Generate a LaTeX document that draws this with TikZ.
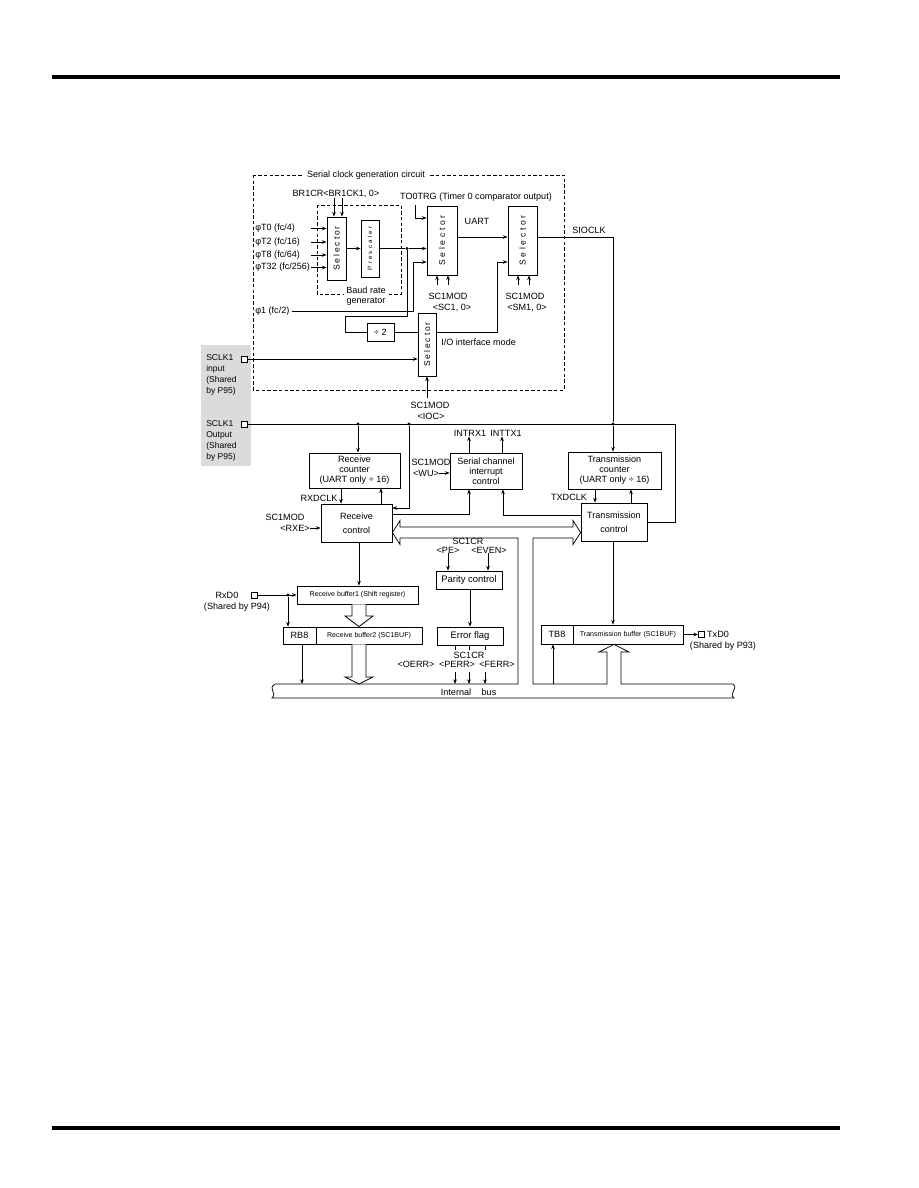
\documentclass[tikz,border=0pt]{standalone}
\usepackage{fontspec}
\setmainfont{Liberation Sans}
\newfontfamily\selfont[LetterSpace=22]{Liberation Sans}
\newfontfamily\selfontb[LetterSpace=32]{Liberation Sans}
\newfontfamily\prefont[LetterSpace=36]{Liberation Sans}
\usetikzlibrary{arrows.meta,calc}
\begin{document}
\begin{tikzpicture}[x=0.75pt,y=-0.75pt,
  every node/.style={inner sep=0pt},
  txt/.style={font=\fontsize{6.8}{7.6}\selectfont},
  sclk/.style={font=\fontsize{6.4}{7.6}\selectfont, anchor=west},
  sml/.style={font=\fontsize{5.3}{6}\selectfont},
  box/.style={draw, line width=0.6pt, align=center, font=\fontsize{6.8}{7.6}\selectfont},
  ctl/.style={font=\fontsize{6.8}{10.2}\selectfont},
  big/.style={font=\fontsize{7.1}{8}\selectfont},
  sz/.style 2 args={minimum width=#1*0.75pt, minimum height=#2*0.75pt},
  wire/.style={line width=0.55pt},
  arr/.style={wire, -{Stealth[length=3.5pt,width=2.7pt]}},
  jdot/.style={circle, fill, minimum size=2.4pt},
  pin/.style={draw, fill=white, line width=0.55pt, minimum size=4.6pt},
  dbox/.style={line width=0.55pt, dash pattern=on 2.6pt off 1.7pt},
  hollow/.style={draw, line width=0.6pt, fill=white, line join=miter},
  rsel/.style={rotate=90, font=\selfont\fontsize{6.4}{7}\selectfont},
  rselb/.style={rotate=90, font=\selfontb\fontsize{6.4}{7}\selectfont},
]
\useasboundingbox (0,0) rectangle (918,1188);

% page rules
\draw[line width=2.3pt] (52,77) -- (840,77);
\draw[line width=2.3pt] (52,1128) -- (840,1128);

% shaded pin area
\fill[black!14] (201,345) rectangle (251,466);

% dashed frames
\draw[dbox] (253,175) rectangle (564,390);
\node[txt, fill=white, inner xsep=2pt, inner ysep=1pt] (sctitle) at (366,175) {Serial clock generation circuit};
\draw[dbox] (317,205) rectangle (401,294);
\node[txt, fill=white, inner xsep=1.5pt, inner ysep=1pt] (baud1) at (366,290) {Baud rate};
\node[txt] (baud2) at (366,301.5) {generator};

% boxes
\node[box, sz={19}{63}] (selA) at (336.5,248.5) {};
\node[rsel] (selAt) at (selA) {Selector};
\node[box, sz={18}{57}] (presc) at (370,248.5) {};
\node[rotate=90, font=\prefont\fontsize{4.6}{5}\selectfont] (presct) at (presc) {Prescaler};
\node[box, sz={30}{69}] (selB) at (442,240.5) {};
\node[rselb] (selBt) at (selB) {Selector};
\node[box, sz={29}{69}] (selD) at (522.5,240.5) {};
\node[rselb] (selDt) at (selD) {Selector};
\node[box, sz={18}{63}] (selC) at (427,344.5) {};
\node[rsel] (selCt) at (selC) {Selector};
\node[box, sz={27}{18}] (div2) at (380.5,332) {÷ 2};

\node[box, sz={91}{35}] (rxcnt) at (354.5,470.5) {Receive\\counter\\(UART only ÷ 16)};
\node[box, ctl, sz={71}{38}] (rxctl) at (356.5,523) {Receive\\control};
\node[box, sz={72}{36}] (intc) at (486,471) {Serial channel\\interrupt\\control};
\node[box, sz={93}{37}] (txcnt) at (614.5,470.5) {Transmission\\counter\\(UART only ÷ 16)};
\node[box, ctl, sz={66}{38}] (txctl) at (614,522) {Transmission\\control};
\node[box, big, sz={66}{18}] (par) at (469,580) {Parity control};
\node[box, big, sz={66}{18}] (err) at (470,636) {Error flag};
\node[box, sml, sz={121}{18}] (rxb1) at (357.5,595) {Receive buffer1 (Shift register)};
\node[box, sz={33}{17}] (rb8) at (299.5,635.5) {RB8};
\node[box, sml, sz={106}{17}] (rxb2) at (369,635.5) {Receive buffer2 (SC1BUF)};
\node[box, sz={32}{19}] (tb8) at (557,634.5) {TB8};
\node[box, sml, sz={110}{19}] (txb) at (628,634.5) {Transmission buffer (SC1BUF)};

% pins
\node[pin] (sqIn) at (244,359) {};
\node[pin] (sqOut) at (244,424) {};
\node[pin] (sqRx) at (254,595) {};
\node[pin] (sqTx) at (701.5,634.5) {};

% junction dots
\node[jdot] (dotP) at (407,248.5) {};
\node[jdot] (dotR1) at (358,424) {};
\node[jdot] (dotR2) at (409,424) {};
\node[jdot] (dotT) at (613,424) {};
\node[jdot] (dotRx) at (288,595) {};

% SCLK texts
\node[sclk] (si1) at (206,358) {SCLK1};
\node[sclk] (si2) at (206,369) {input};
\node[sclk] (si3) at (206,380) {(Shared};
\node[sclk] (si4) at (206,391) {by P95)};
\node[sclk] (so1) at (206,424) {SCLK1};
\node[sclk] (so2) at (206,435) {Output};
\node[sclk] (so3) at (206,446) {(Shared};
\node[sclk] (so4) at (206,457) {by P95)};

% baud selector inputs
\foreach \yy/\tt [count=\i] in {228.5/{φT0 (fc/4)}, 242/{φT2 (fc/16)}, 255/{φT8 (fc/64)}, 267.5/{φT32 (fc/256)}} {
  \node[txt, anchor=west] (phi\i) at (255,\yy) {\tt};
  \coordinate (phs\i) at (311,\yy);
  \draw[arr] (phs\i) -- (selA.west |- phs\i);
}
\node[txt] (br1cr) at (336,193.5) {BR1CR<BR1CK1, 0>};
\draw[arr] (br1cr.south -| 334,0) -- (selA.north -| 334,0);
\draw[arr] (br1cr.south -| 342,0) -- (selA.north -| 342,0);
\draw[arr] (selA.east) -- (presc.west);
\draw[arr] (presc.east) -- (dotP) -- (selB.west |- dotP);

% TO0TRG
\node[txt] (to0) at (476,197) {TO0TRG (Timer 0 comparator output)};
\coordinate (to0s) at (415,205);
\draw[arr] (to0s) |- (selB.west |- 0,218);

% phi1
\node[txt, anchor=west] (phi5) at (255,311) {φ1 (fc/2)};
\coordinate (phibend) at (413,311);
\draw[arr] ([xshift=1.5pt]phi5.east) -- (phibend) |- (selB.west |- 0,262);

% divide-by-2 route
\coordinate (d2a) at (407,316);
\coordinate (d2b) at (345,316);
\draw[wire] (dotP) -- (d2a) -- (d2b) |- (div2.west);
\draw[wire] (div2.east) -- (selC.west |- div2.east);

% SCLK1 input
\draw[arr] (sqIn.east) -- (selC.west |- sqIn.east);
\node[txt, anchor=west] (iomode) at (441,342) {I/O interface mode};

% I/O selector -> SIOCLK selector
\coordinate (iob) at (497,332);
\draw[arr] (selC.east |- iob) -- (iob) |- (selD.west |- 0,262);

% UART
\draw[arr] (selB.east |- 0,237) -- (selD.west |- 0,237);
\node[txt] (uart) at (477,221) {UART};

% SIOCLK
\draw[wire] (selD.east |- 0,237) -| (dotT);
\node[txt] (sioclk) at (589,230) {SIOCLK};
\draw[arr] (dotT) -- (txcnt.north -| dotT);

% SC1MOD under selectors
\node[txt] (scA1) at (448,296) {SC1MOD};
\node[txt] (scA2) at (452,308) {<SC1, 0>};
\draw[arr] (437,285) -- (selB.south -| 437,0);
\draw[arr] (448,285) -- (selB.south -| 448,0);
\node[txt] (scD1) at (525,296) {SC1MOD};
\node[txt] (scD2) at (527,308) {<SM1, 0>};
\draw[arr] (518,285) -- (selD.south -| 518,0);
\draw[arr] (529,285) -- (selD.south -| 529,0);
\node[txt] (ioc1) at (430,405) {SC1MOD};
\node[txt] (ioc2) at (431,416.5) {<IOC>};
\draw[arr] (selC.south |- 0,398) -- (selC.south);

% SCLK1 output line
\coordinate (ocR) at (675,424);
\coordinate (ocB) at (675,522);
\draw[wire] (sqOut.east) -- (ocR) -- (ocB) -- (txctl.east |- ocB);
\draw[arr] (dotR1) -- (rxcnt.north -| dotR1);
\coordinate (r2b) at (409,508);
\draw[arr] (dotR2) -- (r2b) -- (rxctl.east |- r2b);

% receive clocks
\node[txt] (rxdclk) at (319,498) {RXDCLK};
\draw[arr] (rxcnt.south -| 341,0) -- (rxctl.north -| 341,0);
\draw[arr] (rxctl.north -| 381,0) -- (rxcnt.south -| 381,0);
\node[txt] (rxe1) at (285,517) {SC1MOD};
\node[txt] (rxe2) at (295,528) {<RXE>};
\draw[arr] (rxe2.east) -- (rxctl.west |- rxe2.east);

% interrupt control
\node[txt] (wu1) at (431,462) {SC1MOD};
\node[txt] (wu2) at (426,473) {<WU>};
\draw[arr] (wu2.east) -- (intc.west |- wu2.east);
\node[txt] (irx) at (470,433) {INTRX1};
\node[txt] (itx) at (506,433) {INTTX1};
\draw[arr] (intc.north -| 469,0) -- (irx.south -| 469,0);
\draw[arr] (intc.north -| 502,0) -- (itx.south -| 502,0);
\coordinate (ri) at (469,514);
\draw[arr] (rxctl.east |- ri) -- (ri) -- (intc.south -| ri);
\coordinate (ti) at (503,515);
\draw[arr] (txctl.west |- ti) -- (ti) -- (intc.south -| ti);

% transmission clocks
\node[txt] (txdclk) at (569,497) {TXDCLK};
\draw[arr] (txcnt.south -| 595,0) -- (txctl.north -| 595,0);
\draw[arr] (txctl.north -| 631,0) -- (txcnt.south -| 631,0);
\draw[arr] (txctl.south -| 613,0) -- (txb.north -| 613,0);

% receive data path
\draw[arr] (rxctl.south -| 359,0) -- (rxb1.north -| 359,0);
\node[txt] (rxd0) at (227,595) {RxD0};
\node[txt] (rxsh) at (237,607) {(Shared by P94)};
\draw[arr] (sqRx.east) -- (rxb1.west |- sqRx.east);
\draw[arr] (dotRx) -- (rb8.north -| dotRx);
\coordinate (bus302) at (302,684);
\draw[arr] (rb8.south -| bus302) -- (bus302);

% parity / error
\node[txt] (sc1cr1) at (468,541) {SC1CR};
\node[txt] (pe) at (448,550) {<PE>};
\node[txt] (even) at (489,550) {<EVEN>};
\draw[arr] (pe.south -| 448,0) -- (par.north -| 448,0);
\draw[arr] (even.south -| 488,0) -- (par.north -| 488,0);
\draw[arr] (par.south -| 470,0) -- (err.north -| 470,0);
\node[txt] (sc1cr2) at (469,655) {SC1CR};
\node[txt] (oerr) at (416,664) {<OERR>};
\node[txt] (perr) at (457,664) {<PERR>};
\node[txt] (ferr) at (497,664) {<FERR>};
\foreach \xx in {455,469,485} {
  \draw[wire] (err.south -| \xx,0) -- (\xx,650);
  \draw[arr] (\xx,672) -- (\xx,684);
}

% internal bus and data bus double arrow
\draw[wire, line join=miter]
  (rxctl.east |- 0,532.5) -- (400,520.5) -- (400,527) -- (573,527) -- (573,520.5)
  -- (txctl.west |- 0,532.5) -- (573,544.5) -- (573,538) -- (533,538) -- (533,684)
  -- (607,684) -- (607,652) -- (599,652) -- (txb.south -| 614,0) -- (629,652) -- (621,652) -- (621,684)
  -- (733,684) .. controls (739,689) and (728,693) .. (734,698)
  -- (272,698) .. controls (278,693) and (267,689) .. (275,684)
  -- (518,684) -- (518,538) -- (400,538) -- (400,544.5) -- cycle;
\node[txt] (ib1) at (456,692) {Internal};
\node[txt] (ib2) at (489,692) {bus};

% hollow arrows of the receive buffers
\draw[hollow] (rxb1.south -| 352,0) -- (352,616) -- (345,616) -- (rxb2.north -| 359,0) -- (373,616) -- (366,616) -- (rxb1.south -| 366,0);
\draw[hollow] (rxb2.south -| 352,0) -- (352,677) -- (345,677) -- (359,684) -- (373,677) -- (366,677) -- (rxb2.south -| 366,0);

% transmission side
\coordinate (bus553) at (553,684);
\draw[arr] (bus553) -- (tb8.south -| bus553);
\draw[arr] (txb.east) -- (sqTx.west);
\node[txt] (txd0) at (718,634) {TxD0};
\node[txt] (txsh) at (723,646.5) {(Shared by P93)};
\end{tikzpicture}
\end{document}
